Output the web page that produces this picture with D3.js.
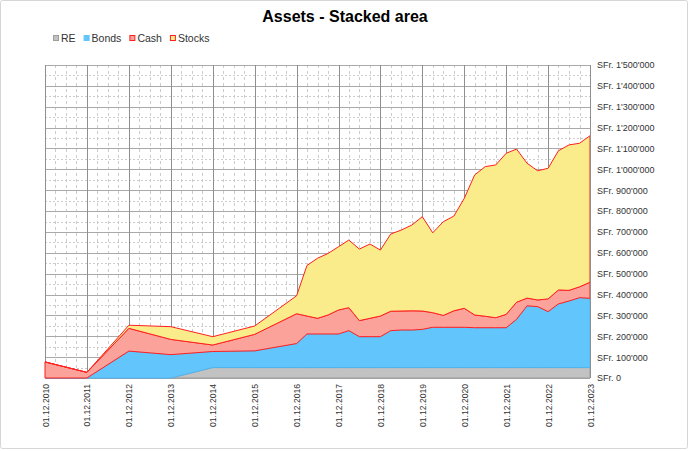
<!DOCTYPE html>
<html>
<head>
<meta charset="utf-8">
<script src="https://cdn.jsdelivr.net/npm/d3@7"></script>
<style>
  body { margin: 0; background: #fff; }
  svg { display: block; font-family: "Liberation Sans", Arial, Helvetica, sans-serif; }
</style>
</head>
<body>
<svg id="chart" width="690" height="451"></svg>
<script>
// values (SFr.)
const dates = [
  "2010-12-01", "2011-12-01", "2012-12-01", "2013-12-01", "2014-12-01", "2015-12-01", "2016-12-01",
  "2017-03-01", "2017-06-01", "2017-09-01", "2017-12-01",
  "2018-03-01", "2018-06-01", "2018-09-01", "2018-12-01",
  "2019-03-01", "2019-06-01", "2019-09-01", "2019-12-01",
  "2020-03-01", "2020-06-01", "2020-09-01", "2020-12-01",
  "2021-03-01", "2021-06-01", "2021-09-01", "2021-12-01",
  "2022-03-01", "2022-06-01", "2022-09-01", "2022-12-01",
  "2023-03-01", "2023-06-01", "2023-09-01", "2023-12-01"
];
const re = [
  0, 0, 0, 0, 50000, 50000, 50000,
  50000, 50000, 50000, 50000, 50000, 50000, 50000, 50000,
  50000, 50000, 50000, 50000, 50000, 50000, 50000, 50000,
  50000, 50000, 50000, 50000, 50000, 50000, 50000, 50000,
  50000, 50000, 50000, 50000
];
const bonds = [
  0, 0, 129000, 112000, 77000, 80000, 115000,
  161000, 161000, 161000, 161000, 177000, 148000, 148000, 148000,
  177000, 180000, 180000, 183000, 193000, 193000, 193000, 193000,
  191000, 191000, 191000, 191000, 231000, 296000, 292000, 268000,
  305000, 319000, 335000, 332000
];
const cash = [
  77000, 27000, 109000, 73000, 31000, 79000, 143000,
  86000, 75000, 91000, 115000, 110000, 77000, 88000, 99000,
  93000, 91000, 92000, 88000, 70000, 57000, 79000, 91000,
  61000, 55000, 48000, 64000, 82000, 37000, 32000, 61000,
  67000, 51000, 52000, 77000
];
const stocks = [
  0, 0, 15000, 61000, 40000, 40000, 86000,
  242000, 288000, 295000, 303000, 324000, 343000, 356000, 316000,
  370000, 388000, 411000, 452000, 383000, 449000, 454000, 527000,
  671000, 717000, 732000, 772000, 734000, 646000, 619000, 626000,
  667000, 697000, 688000, 702000
];
const seriesNames = ["RE", "Bonds", "Cash", "Stocks"];
const xTickLabels = [
  "01.12.2010", "01.12.2011", "01.12.2012", "01.12.2013", "01.12.2014", "01.12.2015", "01.12.2016",
  "01.12.2017", "01.12.2018", "01.12.2019", "01.12.2020", "01.12.2021", "01.12.2022", "01.12.2023"
];
const yTicks = [0, 100000, 200000, 300000, 400000, 500000, 600000, 700000,
  800000, 900000, 1000000, 1100000, 1200000, 1300000, 1400000, 1500000];

const fills = { RE: "#c2c2c2", Bonds: "#62c5fc", Cash: "#fba39b", Stocks: "#faec8b" };
const strokes = { RE: "#9c9c9c", Bonds: "#4db6f2", Cash: "#ff1f1f", Stocks: "#ff1f1f" };

const parseIso = d3.utcParse("%Y-%m-%d");
const parseLbl = d3.utcParse("%d.%m.%Y");
const fmtLbl = d3.utcFormat("%d.%m.%Y");
const chf = d3.formatLocale({ decimal: ".", thousands: "'", grouping: [3], currency: ["SFr. ", ""] });
const fmtY = v => "SFr. " + chf.format(",")(v);

const rows = dates.map((d, i) => ({
  date: parseIso(d), RE: re[i], Bonds: bonds[i], Cash: cash[i], Stocks: stocks[i]
}));

const plotL = 45, plotR = 590, plotT = 65, plotB = 378;
const svg = d3.select("#chart");

// outer frame
svg.append("rect")
  .attr("x", 0.5).attr("y", 0.5).attr("width", 687).attr("height", 448)
  .attr("rx", 2).attr("fill", "#fff").attr("stroke", "#d6d6d6");

svg.append("clipPath").attr("id", "plotclip")
  .append("rect").attr("x", plotL - 1).attr("y", plotT - 2)
  .attr("width", plotR - plotL + 1).attr("height", plotB - plotT + 3);

const xTicks = xTickLabels.map(parseLbl);
const x = d3.scaleUtc().domain([xTicks[0], xTicks[xTicks.length - 1]]).range([plotL, plotR]);
const y = d3.scaleLinear().domain([0, 1500000]).range([plotB, plotT]);

const px = v => Math.round(v) + 0.5;

// grid
const grid = svg.append("g");
const minorX = d3.utcMonths(xTicks[0], xTicks[xTicks.length - 1], 3).filter(d => d.getUTCMonth() !== 11);
grid.selectAll(".mx").data(minorX).join("line")
  .attr("x1", d => px(x(d))).attr("x2", d => px(x(d)))
  .attr("y1", plotT).attr("y2", plotB)
  .attr("stroke", "#cccccc").attr("stroke-dasharray", "3,3");
const minorY = d3.range(50000, 1500000, 100000);
grid.selectAll(".my").data(minorY).join("line")
  .attr("x1", plotL).attr("x2", plotR)
  .attr("y1", d => px(y(d))).attr("y2", d => px(y(d)))
  .attr("stroke", "#cccccc").attr("stroke-dasharray", "2,2");
grid.selectAll(".gy").data(yTicks).join("line")
  .attr("x1", plotL).attr("x2", plotR)
  .attr("y1", d => px(y(d))).attr("y2", d => px(y(d)))
  .attr("stroke", "#a9a9a9");
grid.selectAll(".gx").data(xTicks).join("line")
  .attr("x1", d => px(x(d))).attr("x2", d => px(x(d)))
  .attr("y1", plotT).attr("y2", plotB)
  .attr("stroke", "#8f8f8f");

// stacked areas
const stack = d3.stack().keys(seriesNames);
const layers = stack(rows);
const area = d3.area()
  .x(d => x(d.data.date))
  .y0(d => y(d[0]))
  .y1(d => y(d[1]));

svg.append("g").attr("clip-path", "url(#plotclip)")
  .selectAll("path").data(layers).join("path")
  .attr("d", area)
  .attr("fill", d => fills[d.key])
  .attr("stroke", d => strokes[d.key])
  .attr("stroke-width", 1)
  .attr("stroke-linejoin", "round");

// x axis labels
const xAxis = svg.append("g")
  .attr("transform", `translate(0,${plotB})`)
  .call(d3.axisBottom(x).tickValues(xTicks).tickFormat(fmtLbl).tickSize(0));
xAxis.select(".domain").remove();
xAxis.selectAll("text")
  .attr("transform", "rotate(-90)")
  .attr("x", -6).attr("y", 0).attr("dy", "0.35em")
  .attr("text-anchor", "end")
  .attr("fill", "#333")
  .style("font-size", "8.6px");

// y axis labels on the right
const yAxis = svg.append("g")
  .attr("transform", `translate(${plotR},0)`)
  .call(d3.axisRight(y).tickValues(yTicks).tickFormat(fmtY).tickSize(0).tickPadding(7));
yAxis.select(".domain").remove();
yAxis.selectAll("text")
  .attr("fill", "#333")
  .style("font-size", "9px");
svg.selectAll("g").attr("font-family", null);

// title
svg.append("text")
  .attr("x", 345).attr("y", 22)
  .attr("text-anchor", "middle")
  .style("font-size", "16px").style("font-weight", "bold")
  .attr("fill", "#000")
  .text("Assets - Stacked area");

// legend
const legend = svg.append("g");
let lx = 53;
seriesNames.forEach(name => {
  legend.append("rect")
    .attr("x", lx + 0.5).attr("y", 35.5).attr("width", 5).attr("height", 5)
    .attr("fill", fills[name])
    .attr("stroke", name === "Bonds" ? fills[name] : strokes[name]);
  const t = legend.append("text")
    .attr("x", lx + 8).attr("y", 42)
    .attr("fill", "#333")
    .style("font-size", "10.5px")
    .text(name);
  lx += 8 + t.node().getComputedTextLength() + 8;
});
</script>
</body>
</html>
